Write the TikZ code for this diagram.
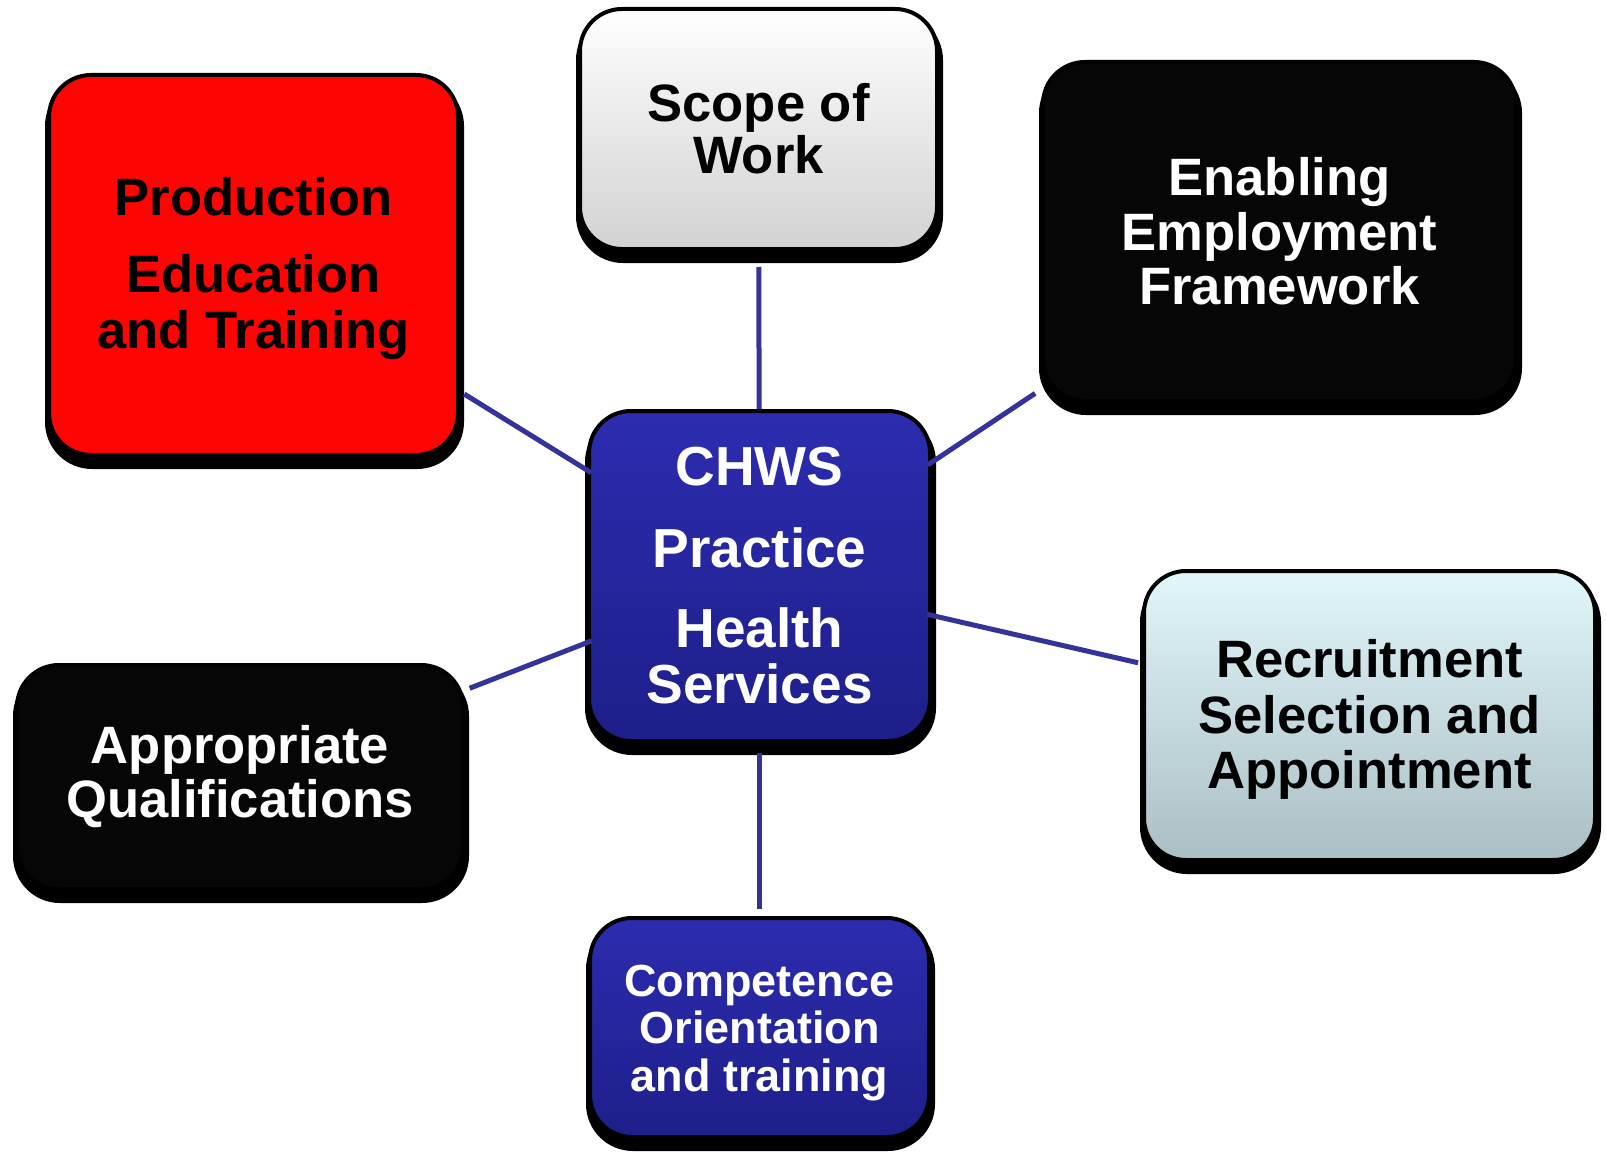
\documentclass[tikz,border=0pt]{standalone}
\usepackage{fontspec}
\setmainfont{Liberation Sans}
\usetikzlibrary{shadows}
\definecolor{linkblue}{RGB}{51,51,153}
\definecolor{chwstop}{RGB}{44,44,176}
\definecolor{chwsbot}{RGB}{30,30,138}
\definecolor{rectop}{RGB}{226,247,250}
\definecolor{recbot}{RGB}{170,190,196}
\definecolor{scopebot}{RGB}{210,210,210}
\definecolor{boxblack}{RGB}{6,6,6}
\definecolor{boxred}{RGB}{255,4,4}
\begin{document}
\begin{tikzpicture}[x=1pt,y=-1pt,
  box/.style={rectangle, rounded corners=42pt, draw=black, line width=4pt,
    inner sep=0pt, align=center,
    general shadow={fill=black, draw=black, line width=10pt,
      shadow xshift=1pt, shadow yshift=-9pt}},
  link/.style={draw=linkblue, line width=5pt},
]
\useasboundingbox[fill=white] (0,0) rectangle (1606,1153);

\node[box, fill=boxred, minimum width=409pt, minimum height=380pt, text=black,
  font=\bfseries\fontsize{52.6}{56}\selectfont] (prod) at (253.5,265)
  {\rule{0pt}{46pt}Production\\[21pt]Education\\and Training};

\node[box, top color=white, bottom color=scopebot, minimum width=357pt,
  minimum height=240pt, text=black,
  font=\bfseries\fontsize{52.6}{52}\selectfont] (scope) at (758.5,129)
  {Scope of\\Work};

\node[box, fill=boxblack, minimum width=473pt, minimum height=339pt, text=white,
  font=\bfseries\fontsize{52.6}{54.5}\selectfont] (enab) at (1279.5,231.5)
  {Enabling\\Employment\\Framework};

\node[box, top color=chwstop, bottom color=chwsbot, minimum width=341pt,
  minimum height=330pt, text=white,
  font=\bfseries\fontsize{55}{56.5}\selectfont] (chws) at (759.5,576)
  {CHWS\\[25pt]Practice\\[23.5pt]Health\\Services};

\node[box, fill=boxblack, minimum width=446pt, minimum height=224pt, text=white,
  font=\bfseries\fontsize{52.6}{54}\selectfont] (appr) at (240,777)
  {Appropriate\\Qualifications};

\node[box, top color=rectop, bottom color=recbot, minimum width=451pt,
  minimum height=289pt, text=black,
  font=\bfseries\fontsize{52.6}{55.5}\selectfont] (recr) at (1369.5,715.5)
  {\rule{0pt}{46pt}Recruitment\\Selection and\\Appointment};

\node[box, top color=chwstop, bottom color=chwsbot, minimum width=339pt,
  minimum height=219pt, text=white,
  font=\bfseries\fontsize{45}{47.3}\selectfont] (comp) at (759.5,1027.5)
  {\rule{0pt}{42pt}Competence\\Orientation\\and training};

\draw[link, shorten <=-5pt, shorten >=5pt] (chws) -- (prod);
\draw[link, shorten >=16pt] (chws) -- (scope);
\draw[link, shorten <=-5pt, shorten >=7pt] (chws) -- (enab);
\draw[link, shorten <=-5pt, shorten >=5pt] (chws) -- (appr);
\draw[link, shorten <=-5pt, shorten >=4pt] (chws) -- (recr);
\draw[link, shorten <=10pt, shorten >=7pt] (chws) -- (comp);
\end{tikzpicture}
\end{document}
